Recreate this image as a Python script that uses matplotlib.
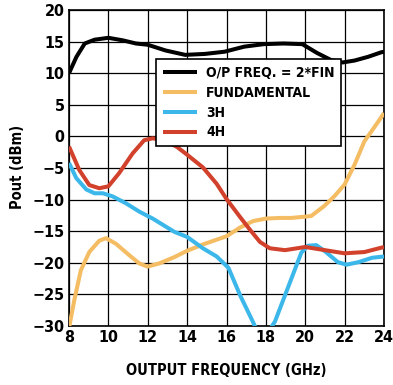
import matplotlib
matplotlib.use("Agg")
import matplotlib.pyplot as plt

plt.rcParams["font.family"] = "DejaVu Sans"
plt.rcParams["font.stretch"] = "condensed"
plt.rcParams["font.weight"] = "bold"

# O/P FREQ. = 2*FIN
x_op = [8, 8.38, 8.8, 9.3, 10, 10.73, 11.4, 12, 12.9, 13.9, 14.9, 15.9, 16.9, 17.9, 18.9, 19.85, 20.6, 21.3, 21.9, 22.5, 23.2, 23.85, 24]
y_op = [10, 12.6, 14.7, 15.3, 15.6, 15.2, 14.7, 14.5, 13.6, 12.9, 13.05, 13.4, 14.2, 14.6, 14.7, 14.6, 13.2, 12.1, 11.7, 12.0, 12.6, 13.3, 13.4]

# FUNDAMENTAL
x_fund = [8.02, 8.27, 8.6, 9.03, 9.54, 9.88, 10.39, 11.06, 11.57, 11.99, 12.58, 13.35, 14, 14.8, 16, 16.7, 17.35, 18, 18.7, 19.3, 20.3, 20.97, 21.5, 22, 22.5, 23, 23.7, 24]
y_fund = [-30, -25.9, -21.2, -18.3, -16.5, -16.1, -17.0, -18.8, -20.1, -20.6, -20.1, -19.1, -18.1, -17.1, -15.8, -14.4, -13.4, -13.0, -12.9, -12.9, -12.6, -11.0, -9.4, -7.6, -4.5, -0.8, 2.3, 3.7]

# 3H
x_3h = [8, 8.37, 8.88, 9.3, 9.72, 10.22, 10.9, 11.57, 12.25, 12.93, 13.35, 14, 14.8, 15.5, 16.1, 16.7, 17.35, 17.8, 18.46, 19.1, 19.8, 20.13, 20.56, 20.97, 21.66, 22.1, 22.7, 23.4, 24]
y_3h = [-4.2, -6.6, -8.4, -9.0, -9.0, -9.5, -10.6, -11.9, -13.0, -14.3, -15.1, -15.9, -17.7, -19.0, -20.8, -25.2, -29.4, -32.5, -29.3, -24.1, -18.4, -17.3, -17.2, -18.1, -19.9, -20.3, -19.9, -19.2, -19.0]

# 4H
x_4h = [8, 8.52, 9.03, 9.54, 10.0, 10.55, 11.23, 11.82, 12.25, 12.93, 13.5, 14, 14.8, 15.5, 16, 16.7, 17.2, 17.7, 18.2, 18.97, 20, 21, 22, 23, 24]
y_4h = [-1.6, -5.3, -7.7, -8.2, -7.9, -5.8, -2.7, -0.6, -0.3, -0.7, -1.7, -2.9, -4.9, -7.5, -9.9, -12.8, -14.8, -16.7, -17.7, -18.0, -17.5, -18.0, -18.5, -18.3, -17.5]

fig = plt.figure(figsize=(3.93, 3.85), dpi=100)
fig.subplots_adjust(left=69/393, right=384/393, top=1-10/385, bottom=1-326/385)
ax = fig.add_subplot(111)

lw = 2.9
style = dict(lw=lw, solid_joinstyle="round", solid_capstyle="butt")
ax.plot(x_op, y_op, color="black", label="O/P FREQ. = 2*FIN", zorder=5, **style)
ax.plot(x_fund, y_fund, color="#F5BD63", label="FUNDAMENTAL", zorder=4, **style)
ax.plot(x_3h, y_3h, color="#3CB7EA", label="3H", zorder=4, **style)
ax.plot(x_4h, y_4h, color="#D2412B", label="4H", zorder=4, **style)

ax.set_xlim(8, 24)
ax.set_ylim(-30, 20)
ax.set_xticks(range(8, 25, 2))
ax.set_yticks(range(-30, 21, 5))
ax.grid(True, color="black", lw=0.9)
for s in ax.spines.values():
    s.set_linewidth(1.2)
ax.tick_params(length=0, labelsize=11.5, pad=3)
ax.set_xlabel("OUTPUT FREQUENCY (GHz)", fontsize=10.5, fontweight="bold")
ax.set_ylabel("Pout (dBm)", fontsize=10.5, fontweight="bold")
ax.xaxis.set_label_coords(0.5, -0.117)
ax.yaxis.set_label_coords(-0.14, 0.503)

leg = ax.legend(loc="upper left", bbox_to_anchor=(0.276, 0.845), borderaxespad=0,
                fancybox=False, framealpha=1, edgecolor="black", fontsize=10,
                handlelength=2.45, handletextpad=0.65, labelspacing=0.42, borderpad=0.5)
leg.get_frame().set_linewidth(1.2)
leg.set_zorder(6)

fig.savefig("out.png", dpi=100)
